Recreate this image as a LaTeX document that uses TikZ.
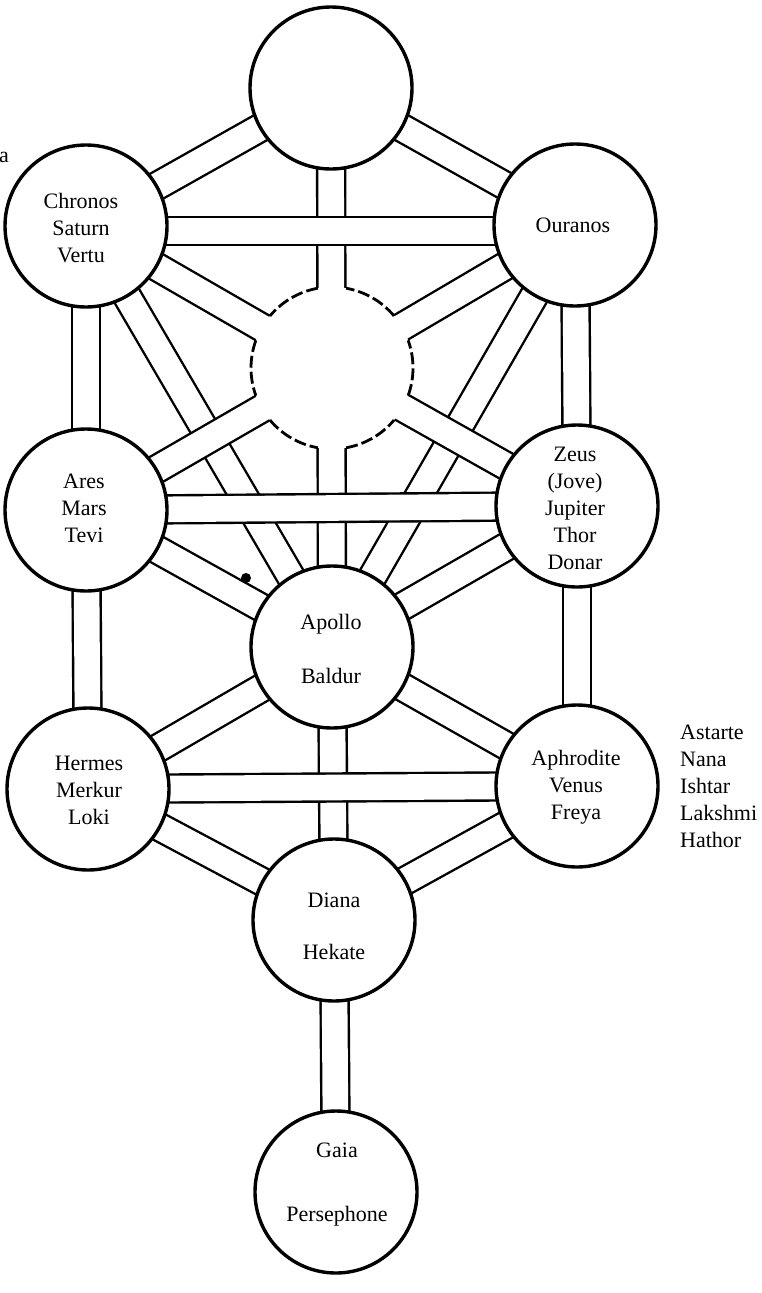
\documentclass[tikz,border=0pt]{standalone}
\usepackage{fontspec}
\setmainfont{Liberation Serif}
\usetikzlibrary{calc,backgrounds}
\tikzset{
  sephira/.style={circle, draw=black, line width=3.4pt, fill=white, minimum size=162pt, inner sep=0pt},
  hollow/.style={circle, fill=white, minimum size=162pt, inner sep=0pt},
  band/.style={draw=black, line width=2.4pt, double=white, double distance=25.6pt},
  godname/.style={font=\fontsize{22}{27}\selectfont, align=center, inner sep=0pt},
  sidename/.style={font=\fontsize{22}{27}\selectfont, align=left, inner sep=0pt},
  daathline/.style={draw=black, line width=2.8pt, dash pattern=on 12pt off 4pt},
  blackdot/.style={circle, fill=black, minimum size=10pt, inner sep=0pt},
}
\begin{document}
\begin{tikzpicture}[x=1pt,y=-1pt]
\useasboundingbox (0,0) rectangle (762,1293);

% spheres
\node[sephira] (K)   at (331,88)  {};
\node[sephira] (Ch)  at (575,225) {};
\node[sephira] (B)   at (86,226)  {};
\node[hollow]  (D)   at (332,368) {};
\node[sephira] (Che) at (577,506) {};
\node[sephira] (G)   at (86,510)  {};
\node[sephira] (T)   at (332,647) {};
\node[sephira] (N)   at (577,786) {};
\node[sephira] (H)   at (88,789)  {};
\node[sephira] (Y)   at (334,920) {};
\node[sephira] (M)   at (336,1192) {};

% Daath dashed outline, open where the paths enter
\foreach \a in {40,100,160,220,280,340}{
  \draw[daathline] ([shift={(\a:81pt)}]D.center) arc[start angle=\a, delta angle=40, radius=81pt];
}

\begin{pgfonlayer}{background}
  % diagonals (lowest)
  \path[band] (K.center) -- (Ch.center);
  \path[band] (K.center) -- (B.center);
  \path[band] (B.center) -- (T.center);
  \path[band] (Ch.center) -- (T.center);
  \path[band] (G.center) -- (T.center);
  \path[band] (Che.center) -- (T.center);
  \path[band] (T.center) -- (N.center);
  \path[band] (T.center) -- (H.center);
  \path[band] (N.center) -- (Y.center);
  \path[band] (H.center) -- (Y.center);
  % verticals
  \path[band] (K.center) -- (T.center);
  \path[band] (B.center) -- (G.center);
  \path[band] (Ch.center) -- (Che.center);
  \path[band] (G.center) -- (H.center);
  \path[band] (Che.center) -- (N.center);
  \path[band] (T.center) -- (Y.center);
  \path[band] (Y.center) -- (M.center);
  % paths to Daath
  \path[band] (B.center) -- (D.center);
  \path[band] (Ch.center) -- (D.center);
  \path[band] (G.center) -- (D.center);
  \path[band] (Che.center) -- (D.center);
  % horizontals (highest)
  \path[band] ($(B.center)+(0,5)$) -- ($(Ch.center)+(0,6)$);
  \path[band] (G.center) -- (Che.center);
  \path[band] (H.center) -- (N.center);
\end{pgfonlayer}

\node[blackdot] (dot) at (246,578) {};

% names
\node[godname] (tB)   at (81,228)  {Chronos\\Saturn\\Vertu};
\node[godname] (tCh)  at (573,225) {Ouranos};
\node[godname] (tG)   at (84,508)  {Ares\\Mars\\Tevi};
\node[godname] (tChe) at (575,508) {Zeus\\(Jove)\\Jupiter\\Thor\\Donar};
\node[godname] (tT)   at (331,649) {Apollo\\[27pt]Baldur};
\node[godname] (tH)   at (89,790)  {Hermes\\Merkur\\Loki};
\node[godname] (tN)   at (576,787) {Aphrodite\\Venus\\Freya};
\node[godname] (tY)   at (334,926) {Diana\\[25pt]Hekate};
\node[godname] (tM)   at (337,1185) {Gaia\\[37pt]Persephone};
\node[sidename, anchor=west] (side) at (680,786) {Astarte\\Nana\\Ishtar\\Lakshmi\\Hathor};
\node[font=\fontsize{22}{27}\selectfont, inner sep=0pt, anchor=base east] (cut) at (9,162) {a};
\end{tikzpicture}
\end{document}
